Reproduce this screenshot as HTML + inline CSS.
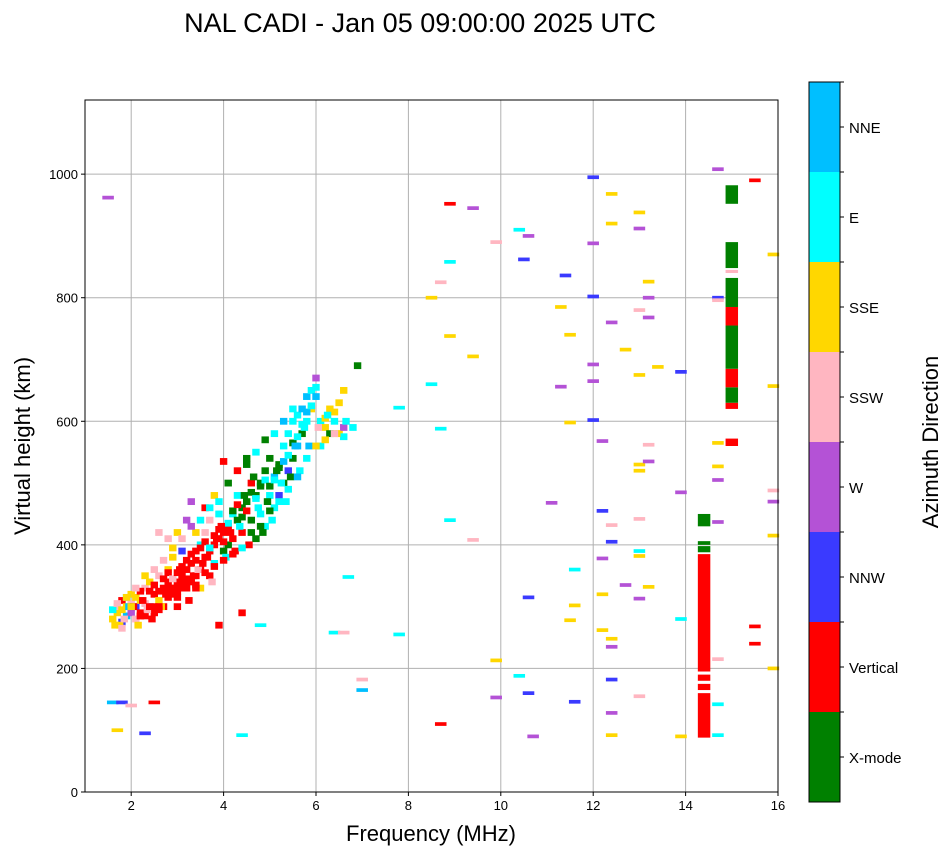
<!DOCTYPE html>
<html><head><meta charset="utf-8"><style>
html,body{margin:0;padding:0;background:#fff}
svg{display:block;font-family:"Liberation Sans","DejaVu Sans",sans-serif}
</style></head><body>
<svg id="chart" width="951" height="856">
<text x="420" y="32" font-size="27" text-anchor="middle">NAL CADI - Jan 05 09:00:00 2025 UTC</text>
<g id="grid"></g>
<g id="marks"></g>
<rect x="85" y="100" width="693" height="692" fill="none" stroke="#000" stroke-width="1"/>
<g id="axes"></g>
<text x="431" y="841" font-size="22" text-anchor="middle">Frequency (MHz)</text>
<text transform="translate(30,446) rotate(-90)" font-size="22" text-anchor="middle">Virtual height (km)</text>
<g id="cbar"></g>
<text transform="translate(938,442) rotate(-90)" font-size="22" text-anchor="middle">Azimuth Direction</text>
</svg>
<script>
const dirNames = ["X-mode","Vertical","NNW","W","SSW","SSE","E","NNE"];
const dirColors = ["#008000","#ff0000","#3a3aff","#b452d6","#ffb6c1","#ffd700","#00ffff","#00bfff"];
const xTicks = [2,4,6,8,10,12,14,16];
const yTicks = [0,200,400,600,800,1000];
const cloudFreq = [1.6,1.7,1.7,1.8,1.8,1.9,1.9,2.0,2.0,2.1,2.1,2.2,2.2,2.3,2.3,2.4,2.4,2.5,2.5,2.6,2.6,2.6,2.7,2.7,2.8,2.8,2.8,2.9,2.9,3.0,3.0,3.0,3.1,3.1,3.1,3.2,3.2,3.2,3.3,3.3,3.3,3.4,3.4,3.4,3.5,3.5,3.5,3.6,3.6,3.6,3.7,3.7,3.7,3.8,3.8,3.8,3.9,3.9,4.0,4.0,4.0,4.1,4.1,4.2,4.2,4.3,4.3,4.4,4.4,4.5,4.5,4.6,4.6,4.7,4.7,4.8,4.8,4.9,4.9,5.0,5.0,5.1,5.1,5.2,5.2,5.3,5.3,5.4,5.4,5.5,5.5,5.6,5.6,5.7,5.7,5.8,5.8,5.9,5.9,6.0,6.0,6.1,6.1,6.2,6.3,6.3,6.4,6.5,6.5,6.6,6.6,6.8,6.9,
1.6,1.7,1.8,1.9,2.0,2.1,2.2,2.3,2.4,2.5,2.6,2.7,2.8,2.9,3.0,3.1,3.2,3.3,3.4,3.5,3.6,3.7,3.8,3.9,4.0,4.1,4.2,4.3,4.4,4.5,4.6,4.7,4.8,4.9,5.0,5.1,5.2,5.3,5.4,5.5,5.6,5.7,5.8,5.9,6.0,6.2,6.4,6.6,
1.75,1.85,1.95,2.05,2.15,2.25,2.35,2.45,2.55,2.65,2.75,2.85,2.95,3.05,3.15,3.25,3.35,3.45,3.55,3.65,3.75,3.85,3.95,4.05,4.15,4.25,4.35,4.45,4.55,4.65,4.75,4.85,4.95,5.05,5.15,5.25,5.35,5.45,5.55,5.65,5.75,5.85,6.05,6.25,6.45,6.65,
1.65,1.9,2.1,2.3,2.5,2.7,2.9,3.1,3.3,3.5,3.7,3.9,2.2,2.4,2.6,2.8,3.0,3.2,3.4,3.6,3.8,4.0,4.2,4.4,4.6,4.8,5.0,5.2,5.4,5.6,5.8,6.0,6.2,6.4,4.1,4.3,4.5,4.7,4.9,5.1,5.3,5.5,3.9,4.4,1.8,2.0,2.2,2.6,3.0,3.4];
const cloudHeight = [280,290,300,275,310,285,300,290,320,280,300,310,290,330,285,300,340,320,290,310,350,420,330,300,340,360,410,320,380,340,300,420,350,330,390,360,330,440,370,340,470,350,390,420,360,400,330,380,420,460,390,440,350,400,370,480,410,450,420,390,535,430,400,450,410,440,480,460,420,470,540,440,500,480,410,500,450,520,430,540,480,510,460,530,480,560,500,580,520,600,540,610,560,620,580,640,600,650,620,670,640,560,600,590,620,580,600,580,630,590,650,590,690,
295,305,295,315,305,315,325,305,325,335,325,345,355,345,355,365,375,385,375,395,405,395,415,425,405,435,455,465,445,455,485,475,495,505,495,505,525,535,545,565,575,595,615,625,655,605,615,575,
270,280,300,300,270,310,295,280,300,300,320,330,330,360,340,310,350,360,370,380,340,410,430,380,420,390,430,480,400,510,460,420,470,440,520,500,470,510,560,520,590,560,590,610,580,600,
270,315,330,350,360,375,395,410,430,440,460,470,285,300,295,315,325,345,335,355,365,375,385,395,420,430,455,470,490,510,540,560,570,580,500,520,530,550,570,580,600,620,270,290,265,300,285,300,315,330];
const cloudDir = [5,5,4,2,1,7,5,3,5,4,2,5,1,4,1,2,5,1,1,5,4,4,1,1,1,5,4,1,5,1,1,5,1,1,2,1,1,3,1,1,3,1,1,5,1,6,5,1,4,1,1,4,1,1,6,5,1,6,1,0,1,1,0,6,1,0,6,0,1,0,0,0,1,0,0,0,6,0,6,0,6,7,6,0,2,6,0,6,2,6,0,6,7,7,0,7,6,6,5,3,7,6,6,5,5,0,6,5,5,3,5,6,0,
6,4,5,6,4,5,1,4,1,1,1,1,1,4,1,1,1,1,1,1,1,6,1,1,1,6,0,1,0,1,0,6,0,6,0,6,0,7,6,0,6,6,7,6,6,5,5,6,
5,4,7,1,5,1,4,1,1,5,1,1,1,1,1,1,1,4,1,1,4,1,1,6,1,1,6,0,1,0,6,0,0,6,0,6,6,0,7,6,6,7,4,6,5,6,
5,5,4,5,4,4,5,4,3,6,6,6,1,1,1,1,1,1,1,1,1,1,1,6,0,0,0,6,6,7,6,5,5,4,0,1,0,6,0,6,7,6,1,1,4,5,1,1,1,1];
const sparseFreq = [1.5,1.6,1.7,1.8,2.0,2.3,2.5,4.4,4.8,6.4,6.7,6.6,7.0,7.0,7.8,7.8,8.5,8.5,8.7,8.7,8.7,8.9,8.9,8.9,8.9,9.4,9.4,9.4,9.9,9.9,9.9,10.4,10.5,10.4,10.6,10.6,10.6,10.7,11.1,11.3,11.3,11.4,11.5,11.5,11.6,11.6,11.5,11.6,12.0,12.0,12.0,12.0,12.0,12.0,12.2,12.2,12.2,12.2,12.2,12.4,12.4,12.4,12.4,12.4,12.4,12.4,12.4,12.4,12.4,12.7,12.7,13.0,13.0,13.0,13.0,13.0,13.0,13.0,13.0,13.0,13.0,13.0,13.2,13.2,13.2,13.2,13.2,13.2,13.4,13.9,13.9,13.9,13.9,14.7,14.7,14.7,14.7,14.7,14.7,14.7,14.7,14.7,14.7,15.5,15.5,15.5,15.9,15.9,15.9,15.9,15.9,15.9];
const sparseHeight = [962,145,100,145,140,95,145,92,270,258,348,258,182,165,622,255,800,660,825,110,588,952,858,738,440,945,705,408,890,213,153,910,862,188,900,315,160,90,468,785,656,836,598,740,360,302,278,146,995,888,802,692,665,602,568,455,378,320,262,968,920,760,432,405,248,235,182,128,92,716,335,938,912,780,675,530,520,442,382,390,313,155,826,800,768,562,535,332,688,680,485,280,90,1008,800,796,565,527,505,437,215,142,92,990,268,240,870,657,488,470,415,200];
const sparseDir = [3,7,5,2,4,2,1,6,6,6,6,4,4,7,6,6,5,6,4,1,6,1,6,5,6,3,5,4,4,5,3,6,2,6,3,2,2,3,3,5,3,2,5,5,6,5,5,2,2,3,2,3,3,2,3,2,3,5,5,5,5,3,4,2,5,3,2,3,5,5,3,5,3,4,5,5,5,4,5,6,3,4,5,3,3,4,3,5,5,2,3,6,5,3,2,4,5,5,3,3,4,6,6,1,1,1,5,5,4,3,5,5];
const barFreq = [14.4,14.4,14.4,14.4,14.4,14.4,14.4,15.0,15.0,15.0,15.0,15.0,15.0,15.0,15.0,15.0,15.0];
const barLow = [88,165,180,195,388,400,430,560,620,630,655,685,755,785,840,848,952];
const barHigh = [160,175,190,385,398,406,450,572,630,655,685,755,785,832,845,890,982];
const barDir = [1,1,1,1,0,0,0,1,1,0,1,0,1,0,4,0,0];

const NS="http://www.w3.org/2000/svg";
const X0=85,X1=778,Y0=792,Y1=100,FMIN=1,FMAX=16,HMIN=0,HMAX=1120;
function xs(f){return X0+(f-FMIN)/(FMAX-FMIN)*(X1-X0);}
function ys(h){return Y0-(h-HMIN)/(HMAX-HMIN)*(Y0-Y1);}
function mk(tag,attrs,parent){const e=document.createElementNS(NS,tag);for(const k in attrs)e.setAttribute(k,attrs[k]);parent.appendChild(e);return e;}
const grid=document.getElementById('grid'),axes=document.getElementById('axes'),marks=document.getElementById('marks'),cbar=document.getElementById('cbar');
xTicks.forEach(t=>{const x=xs(t);
 const g=mk('line',{x1:x,x2:x,y1:Y1,y2:Y0,stroke:'#b0b0b0','stroke-width':1},grid);
 
 
 mk('line',{x1:x,x2:x,y1:Y0,y2:Y0+4,stroke:'#000'},axes);
 const l=mk('text',{x:x,y:Y0+18,'font-size':13,'text-anchor':'middle'},axes);l.textContent=t;
 
 });
yTicks.forEach(t=>{const y=ys(t);
 const g=mk('line',{x1:X0,x2:X1,y1:y,y2:y,stroke:'#b0b0b0','stroke-width':1},grid);
 
 
 mk('line',{x1:X0-4,x2:X0,y1:y,y2:y,stroke:'#000'},axes);
 const l=mk('text',{x:X0-7,y:y+5,'font-size':13,'text-anchor':'end'},axes);l.textContent=t;
 
 });
cloudFreq.forEach((f,i)=>{const w=xs(f+0.16)-xs(f),h=ys(0)-ys(11);
 const r=mk('rect',{x:xs(f)-w/2,y:ys(cloudHeight[i])-h/2,width:w,height:h,fill:dirColors[cloudDir[i]]},marks);
 
 });
sparseFreq.forEach((f,i)=>{const w=xs(f+0.25)-xs(f),h=ys(0)-ys(6);
 const r=mk('rect',{x:xs(f)-w/2,y:ys(sparseHeight[i])-h/2,width:w,height:h,fill:dirColors[sparseDir[i]]},marks);
 
 });
barFreq.forEach((f,i)=>{const w=xs(f+0.27)-xs(f);
 const r=mk('rect',{x:xs(f)-w/2,y:ys(barHigh[i]),width:w,height:ys(barLow[i])-ys(barHigh[i]),fill:dirColors[barDir[i]]},marks);
 
 });
const CB_X=809,CB_W=31,CB_TOP=82,CB_BOT=802,n=dirNames.length,bh=(CB_BOT-CB_TOP)/n;
dirNames.forEach((name,i)=>{const y=CB_BOT-(i+1)*bh;
 const r=mk('rect',{x:CB_X,y:y,width:CB_W,height:bh,fill:dirColors[i]},cbar);
 
 
 mk('line',{x1:CB_X+CB_W,x2:CB_X+CB_W+4,y1:y+bh/2,y2:y+bh/2,stroke:'#000'},cbar);
 mk('line',{x1:CB_X+CB_W,x2:CB_X+CB_W+4,y1:y,y2:y,stroke:'#000'},cbar);
 const t=mk('text',{x:CB_X+CB_W+9,y:y+bh/2+6,'font-size':15},cbar);t.textContent=name;
 
 });
mk('rect',{x:CB_X,y:CB_TOP,width:CB_W,height:CB_BOT-CB_TOP,fill:'none',stroke:'#000'},cbar);
</script>
</body></html>
